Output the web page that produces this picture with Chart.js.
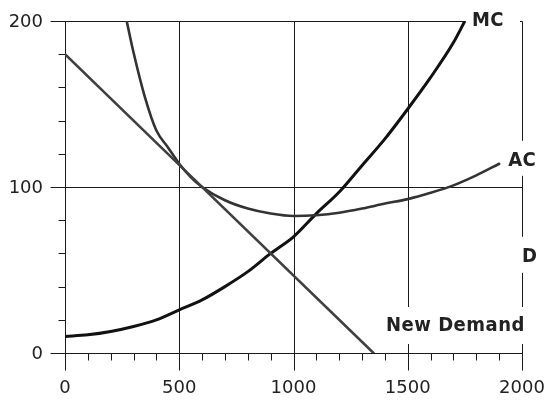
<!DOCTYPE html>
<html>
<head>
<meta charset="utf-8">
<script src="https://cdn.jsdelivr.net/npm/chart.js@4/dist/chart.umd.min.js"></script>
<style>
  html, body { margin: 0; padding: 0; background: #fff; }
  #wrap { width: 548px; height: 402px; }
</style>
</head>
<body>
<div id="wrap"><canvas id="c" width="548" height="402"></canvas></div>
<script>
// Quantity (x) and cost/price (y) values
const mcQty   = [0, 100, 200, 300, 400, 500, 600, 700, 800, 900, 1000, 1100, 1200, 1300, 1400, 1500, 1600, 1700, 1750];
const mcCost  = [10, 11, 13, 16, 20, 26, 32, 40, 49, 60, 70, 84, 97, 113, 129, 147, 166, 187, 200];

const acQty   = [270, 300, 350, 400, 450, 500, 550, 600, 700, 800, 900, 1000, 1100, 1200, 1300, 1400, 1500, 1600, 1700, 1800, 1900];
const acCost  = [200, 181, 154, 134, 124, 114, 106, 100, 92, 87, 84, 82.5, 83, 84.5, 87, 90, 92.7, 96.5, 101, 107, 114];

const demandQty   = [0, 1350];
const demandPrice = [180, 0];

// Axis ticks
const xMajorTicks = [0, 500, 1000, 1500, 2000];
const yMajorTicks = [0, 100, 200];
const xMinorStep = 100;
const yMinorStep = 20;

// Curve names written on the chart
const curveNames = ['MC', 'AC', 'D', 'New Demand'];

const pts = (xs, ys) => xs.map((x, i) => ({ x, y: ys[i] }));

const LINE = '#1a1a1a';

const framePlugin = {
  id: 'frame',
  beforeDatasetsDraw(chart) {
    const { ctx, scales: { x, y } } = chart;
    const px = v => Math.round(x.getPixelForValue(v)) + 0.5;
    const py = v => Math.round(y.getPixelForValue(v)) + 0.5;
    const left = px(0), right = px(2000), top = py(200), bottom = py(0);
    ctx.save();
    ctx.strokeStyle = LINE;
    ctx.lineWidth = 1;
    ctx.beginPath();
    // horizontal grid lines, extended left as major ticks
    yMajorTicks.forEach(v => { ctx.moveTo(left - 15, py(v)); ctx.lineTo(right, py(v)); });
    // vertical grid lines, extended down as major ticks
    xMajorTicks.forEach(v => { ctx.moveTo(px(v), top); ctx.lineTo(px(v), bottom + 17); });
    // minor ticks
    for (let v = 0; v <= 200; v += yMinorStep) { ctx.moveTo(left - 7, py(v)); ctx.lineTo(left, py(v)); }
    for (let v = 0; v <= 2000; v += xMinorStep) { ctx.moveTo(px(v), bottom); ctx.lineTo(px(v), bottom + 7); }
    ctx.stroke();

    // tick labels
    ctx.fillStyle = '#222';
    ctx.font = '18px "DejaVu Sans"';
    ctx.textBaseline = 'middle';
    ctx.textAlign = 'right';
    yMajorTicks.forEach(v => ctx.fillText(String(v), 43, y.getPixelForValue(v) + 1));
    ctx.textAlign = 'center';
    xMajorTicks.forEach(v => ctx.fillText(String(v), x.getPixelForValue(v), bottom + 35));
    ctx.restore();
  },
  afterDatasetsDraw(chart) {
    const { ctx, scales: { x, y } } = chart;
    const right = x.getPixelForValue(2000);
    const mcEnd = { x: x.getPixelForValue(mcQty[mcQty.length - 1]), y: y.getPixelForValue(mcCost[mcCost.length - 1]) };
    const acEnd = { x: x.getPixelForValue(acQty[acQty.length - 1]), y: y.getPixelForValue(acCost[acCost.length - 1]) };
    ctx.save();
    ctx.font = 'bold 20px "DejaVu Sans Condensed", "DejaVu Sans", sans-serif';
    ctx.letterSpacing = '0.5px';
    ctx.textBaseline = 'alphabetic';
    ctx.textAlign = 'left';
    const tags = [
      { text: curveNames[0], tx: mcEnd.x + 7, base: mcEnd.y + 5, box: [mcEnd.x + 1, mcEnd.y - 16, right - 2 - (mcEnd.x + 1), 26] },
      { text: curveNames[1], tx: acEnd.x + 9, base: acEnd.y + 2, box: [acEnd.x + 4, acEnd.y - 23, 45, 35] },
      { text: curveNames[2], tx: right, base: y.getPixelForValue(55), box: [right - 6, y.getPixelForValue(70), 20, 36] },
      { text: curveNames[3], tx: 386, base: y.getPixelForValue(13.3), box: [380, y.getPixelForValue(27.7), 150, 37] }
    ];
    tags.forEach(t => {
      ctx.fillStyle = '#fff';
      ctx.fillRect(t.box[0], t.box[1], t.box[2], t.box[3]);
    });
    ctx.fillStyle = '#222';
    tags.forEach(t => ctx.fillText(t.text, t.tx, t.base));
    ctx.restore();
  }
};

const curve = (data, color, width) => ({
  data,
  showLine: true,
  borderColor: color,
  borderWidth: width,
  pointRadius: 0,
  fill: false,
  cubicInterpolationMode: 'monotone',
  borderCapStyle: 'round',
  borderJoinStyle: 'round'
});

new Chart(document.getElementById('c'), {
  type: 'scatter',
  data: {
    datasets: [
      curve(pts(demandQty, demandPrice), '#404040', 2.6),
      curve(pts(acQty, acCost), '#333333', 2.6),
      curve(pts(mcQty, mcCost), '#111111', 3)
    ]
  },
  options: {
    responsive: false,
    animation: false,
    devicePixelRatio: 1,
    layout: { padding: { left: 65, right: 26, top: 21, bottom: 49 } },
    plugins: { legend: { display: false }, tooltip: { enabled: false } },
    scales: {
      x: { type: 'linear', min: 0, max: 2000, display: false },
      y: { type: 'linear', min: 0, max: 200, display: false }
    }
  },
  plugins: [framePlugin]
});
</script>
</body>
</html>
